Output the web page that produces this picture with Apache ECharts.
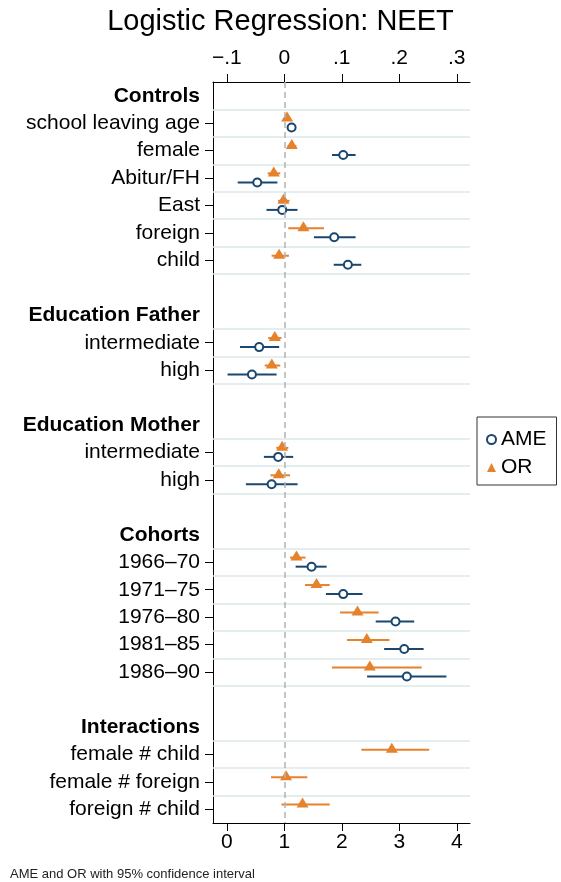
<!DOCTYPE html>
<html>
<head>
<meta charset="utf-8">
<title>Logistic Regression: NEET</title>
<script src="https://cdn.jsdelivr.net/npm/echarts@6/dist/echarts.min.js"></script>
<style>
  html, body { margin: 0; padding: 0; background: #fff; }
  #chart { width: 561px; height: 882px; }
</style>
</head>
<body>
<div id="chart"></div>
<script>
// coefficient groups, top to bottom
var groups = ["Controls", "Education Father", "Education Mother", "Cohorts", "Interactions"];
var groupTerms = [
  ["school leaving age", "female", "Abitur/FH", "East", "foreign", "child"],
  ["intermediate", "high"],
  ["intermediate", "high"],
  ["1966–70", "1971–75", "1976–80", "1981–85", "1986–90"],
  ["female # child", "female # foreign", "foreign # child"]
];

// average marginal effects (top axis), null = not estimated
var ameEst = [0.0127, 0.1025, -0.047, -0.0036, 0.0868, 0.1106, -0.0437, -0.0563, -0.0106, -0.022, 0.0474, 0.1025, 0.1935, 0.2086, 0.2132, null, null, null];
var ameLo  = [0.009, 0.083, -0.081, -0.031, 0.0515, 0.086, -0.077, -0.0987, -0.0355, -0.0668, 0.0197, 0.0724, 0.159, 0.1737, 0.144, null, null, null];
var ameHi  = [0.016, 0.124, -0.012, 0.023, 0.124, 0.134, -0.0089, -0.0134, 0.0155, 0.0231, 0.0736, 0.136, 0.226, 0.2423, 0.282, null, null, null];

// odds ratios (bottom axis)
var orEst = [1.049, 1.13, 0.817, 0.986, 1.333, 0.91, 0.835, 0.783, 0.963, 0.904, 1.212, 1.56, 2.273, 2.435, 2.487, 2.87, 1.031, 1.317];
var orLo  = [1.02, 1.06, 0.71, 0.89, 1.07, 0.78, 0.72, 0.66, 0.86, 0.76, 1.10, 1.36, 1.97, 2.09, 1.83, 2.34, 0.77, 0.95];
var orHi  = [1.08, 1.21, 0.93, 1.09, 1.69, 1.08, 0.95, 0.93, 1.07, 1.10, 1.37, 1.79, 2.64, 2.83, 3.39, 3.52, 1.40, 1.79];

var ameTicks = [-0.1, 0, 0.1, 0.2, 0.3];
var orTicks = [0, 1, 2, 3, 4];

var FONT = '"Liberation Sans", Arial, Helvetica, sans-serif';
var NAVY = "#1a476f";
var ORANGE = "#e6812c";

// rows of the y axis: header, terms, blank gap between groups
var rowLabels = [], rowKind = [], termY = [], sepY = [];
groups.forEach(function (g, gi) {
  if (gi > 0) { rowLabels.push(""); rowKind.push("gap"); }
  rowLabels.push(g); rowKind.push("head");
  sepY.push(rowLabels.length - 2 + 0.5);
  groupTerms[gi].forEach(function (t) {
    rowLabels.push(t); rowKind.push("term");
    termY.push(rowLabels.length - 2);
    sepY.push(rowLabels.length - 2 + 0.5);
  });
});
var yMin = -1.5, yMax = rowLabels.length - 1.5;
sepY = sepY.filter(function (y) { return y < yMax; });

var orOff = -0.17, ameOff = 0.16;
var ameCI = [], amePts = [], orCI = [], orPts = [];
for (var i = 0; i < termY.length; i++) {
  if (ameEst[i] != null) {
    ameCI.push([ameLo[i], ameHi[i], termY[i] + ameOff]);
    amePts.push([ameEst[i], termY[i] + ameOff]);
  }
  if (orEst[i] != null) {
    orCI.push([orLo[i], orHi[i], termY[i] + orOff]);
    orPts.push([orEst[i], termY[i] + orOff]);
  }
}

function ciRenderer(color) {
  return function (params, api) {
    var y = api.value(2);
    var p1 = api.coord([api.value(0), y]);
    var p2 = api.coord([api.value(1), y]);
    return {
      type: "line",
      shape: { x1: p1[0], y1: p1[1], x2: p2[0], y2: p2[1] },
      style: { stroke: color, lineWidth: 2 }
    };
  };
}

function ameFmt(v) {
  if (Math.abs(v) < 1e-9) return "0";
  var s = String(Math.abs(Math.round(v * 10) / 10)).replace(/^0/, "");
  return (v < 0 ? "\u2212" : "") + s;
}

var chart = echarts.init(document.getElementById("chart"));
chart.setOption({
  animation: false,
  backgroundColor: "#fff",
  textStyle: { fontFamily: FONT },
  title: [
    {
      text: "Logistic Regression: NEET",
      left: "center",
      top: 2,
      textStyle: { fontSize: 29, fontWeight: "normal", color: "#000", fontFamily: FONT }
    },
    {
      text: "AME and OR with 95% confidence interval",
      left: 5,
      top: 863,
      textStyle: { fontSize: 13, fontWeight: "normal", color: "#222", fontFamily: FONT }
    }
  ],
  legend: {
    data: ["AME", "OR"],
    orient: "vertical",
    left: 477,
    top: 417,
    padding: [12, 10, 7, 9],
    itemGap: 7,
    itemWidth: 9,
    itemHeight: 9,
    borderColor: "#333",
    borderWidth: 1,
    textStyle: { fontSize: 21, color: "#000", fontFamily: FONT }
  },
  grid: { left: 213, right: 91, top: 82, bottom: 59, containLabel: false },
  xAxis: [
    {
      type: "value",
      position: "bottom",
      min: -0.24,
      max: 4.23,
      axisLine: { onZero: false, lineStyle: { color: "#000", width: 1 } },
      axisTick: { length: 8, customValues: orTicks, lineStyle: { color: "#000" } },
      axisLabel: { customValues: orTicks, margin: 9, fontSize: 21, color: "#000", fontFamily: FONT },
      splitLine: { show: false }
    },
    {
      type: "value",
      position: "top",
      min: -0.124,
      max: 0.323,
      axisLine: { onZero: false, lineStyle: { color: "#000", width: 1 } },
      axisTick: { length: 8, customValues: ameTicks, lineStyle: { color: "#000" } },
      axisLabel: { customValues: ameTicks, margin: 13, fontSize: 21, color: "#000", fontFamily: FONT, formatter: ameFmt },
      splitLine: { show: false }
    }
  ],
  yAxis: [
    {
      // row labels only
      type: "category",
      inverse: true,
      boundaryGap: true,
      data: rowLabels.map(function (l, k) { return "r" + k; }),
      axisLine: { onZero: false, lineStyle: { color: "#000", width: 1 } },
      axisTick: { show: false },
      axisLabel: {
        interval: 0,
        margin: 13,
        fontSize: 21,
        color: "#000",
        fontFamily: FONT,
        formatter: function (v, k) {
          return rowKind[k] === "head" ? "{h|" + rowLabels[k] + "}" : rowLabels[k];
        },
        rich: { h: { fontWeight: "bold", fontSize: 21, color: "#000", fontFamily: FONT } }
      },
      splitLine: { show: false }
    },
    {
      // data axis, also draws the ticks of the term rows
      type: "value",
      position: "left",
      inverse: true,
      min: yMin,
      max: yMax,
      axisLine: { show: false, onZero: false },
      axisTick: { show: true, length: 8, customValues: termY, lineStyle: { color: "#000" } },
      axisLabel: { show: false },
      splitLine: { show: false }
    }
  ],
  series: [
    {
      name: "refs",
      type: "line",
      xAxisIndex: 0,
      yAxisIndex: 1,
      data: [],
      silent: true,
      z: 1,
      markLine: {
        silent: true,
        symbol: ["none", "none"],
        label: { show: false },
        data: sepY.map(function (y) {
          return { yAxis: y, lineStyle: { color: "#dde8ea", width: 1.5, type: "solid" } };
        }).concat([{ xAxis: 1, lineStyle: { color: "#b3b3b3", width: 1.5, type: [6, 4] } }])
      }
    },
    {
      name: "AME ci",
      type: "custom",
      xAxisIndex: 1,
      yAxisIndex: 1,
      renderItem: ciRenderer(NAVY),
      encode: { x: [0, 1], y: 2 },
      data: ameCI,
      z: 2
    },
    {
      name: "OR ci",
      type: "custom",
      xAxisIndex: 0,
      yAxisIndex: 1,
      renderItem: ciRenderer(ORANGE),
      encode: { x: [0, 1], y: 2 },
      data: orCI,
      z: 2
    },
    {
      name: "OR",
      type: "scatter",
      xAxisIndex: 0,
      yAxisIndex: 1,
      symbol: "triangle",
      symbolSize: [12, 10],
      symbolOffset: [0, -2],
      itemStyle: { color: ORANGE, opacity: 1 },
      data: orPts,
      z: 3
    },
    {
      name: "AME",
      type: "scatter",
      xAxisIndex: 1,
      yAxisIndex: 1,
      symbol: "circle",
      symbolSize: 8,
      itemStyle: { color: "#fff", borderColor: NAVY, borderWidth: 2, opacity: 1 },
      data: amePts,
      z: 4
    }
  ]
});
</script>
</body>
</html>
